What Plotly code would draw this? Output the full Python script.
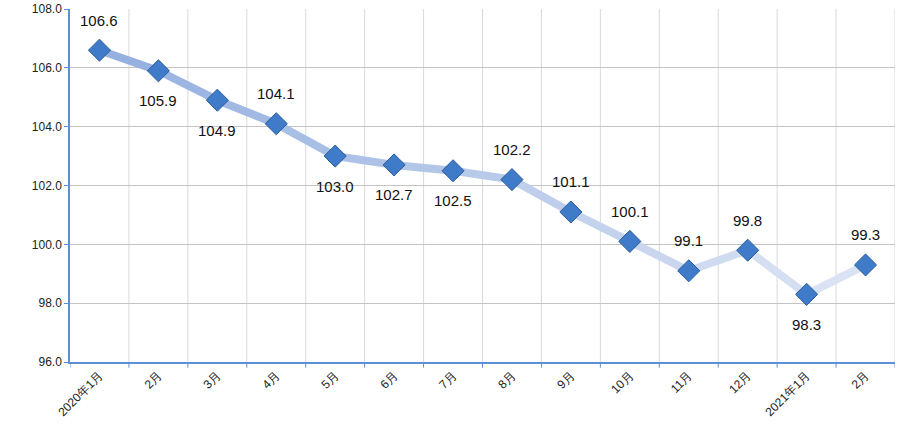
import plotly.graph_objects as go

# monthly index values
months = ['2020年1月', '2月', '3月', '4月', '5月', '6月', '7月', '8月',
          '9月', '10月', '11月', '12月', '2021年1月', '2月']
values = [106.6, 105.9, 104.9, 104.1, 103.0, 102.7, 102.5, 102.2,
          101.1, 100.1, 99.1, 99.8, 98.3, 99.3]
# where each value label sits relative to its marker
label_side = ['up', 'down', 'down', 'up', 'down', 'down', 'down', 'up',
              'up', 'up', 'up', 'up', 'down', 'up']

# x positions as category indices (duplicate "2月" labels handled by tickvals)
xs = list(range(len(months)))

fig = go.Figure()

# thick line fading from blue to pale blue, drawn segment by segment
c0 = (150, 177, 224)
c1 = (218, 227, 243)
n = len(xs) - 1
for i in range(n):
    t = i / (n - 1)
    col = tuple(round(a + (b - a) * t) for a, b in zip(c0, c1))
    fig.add_trace(go.Scatter(
        x=xs[i:i + 2], y=values[i:i + 2], mode='lines',
        line=dict(color='rgb(%d,%d,%d)' % col, width=8),
        hoverinfo='skip', showlegend=False,
    ))

fig.add_trace(go.Scatter(
    x=xs, y=values, mode='markers',
    marker=dict(symbol='diamond', size=17, color='#3f7bc8',
                line=dict(color='#2b5d9c', width=1)),
    showlegend=False,
))

for x, v, side in zip(xs, values, label_side):
    fig.add_annotation(
        x=x, y=v, text=f'{v:.1f}', showarrow=False,
        yshift=30 if side == 'up' else -30,
        font=dict(size=15, color='#111111', family='Liberation Sans'),
    )

fig.update_layout(
    width=904, height=436,
    margin=dict(l=70, r=9, t=9, b=74),
    plot_bgcolor='white', paper_bgcolor='white',
    font=dict(family='Liberation Sans', size=12, color='#222222'),
)
fig.update_xaxes(
    range=[-0.5, len(xs) - 0.5], automargin=False,
    tickvals=xs, ticktext=months, tickangle=-45,
    showgrid=False, zeroline=False,
    showline=True, linecolor='#5b8fd6', linewidth=1.5,
    ticks='', tickfont=dict(size=12),
)
# category boundary gridlines / ticks
for b in range(1, len(xs) + 1):
    fig.add_shape(type='line', xref='x', yref='paper',
                  x0=b - 0.5, x1=b - 0.5, y0=0, y1=1,
                  line=dict(color='#d9d9d9', width=1), layer='below')
for b in range(0, len(xs) + 1):
    fig.add_shape(type='line', xref='x', yref='paper',
                  x0=b - 0.5, x1=b - 0.5, y0=0, y1=-0.016,
                  line=dict(color='#5b8fd6', width=1))
fig.update_yaxes(
    range=[96, 108], dtick=2, tickformat='.1f', automargin=False,
    showgrid=True, gridcolor='#c4c4c4', gridwidth=1,
    zeroline=False,
    showline=True, linecolor='#5b8fd6', linewidth=1.5,
    ticks='outside', ticklen=4, tickcolor='#5b8fd6',
    tickfont=dict(size=12),
)

# drop the browser's default page margin so the figure sits at the corner
fig.write_html("out.html", config={'displayModeBar': False},
               post_script="document.body.style.margin='0px';")
